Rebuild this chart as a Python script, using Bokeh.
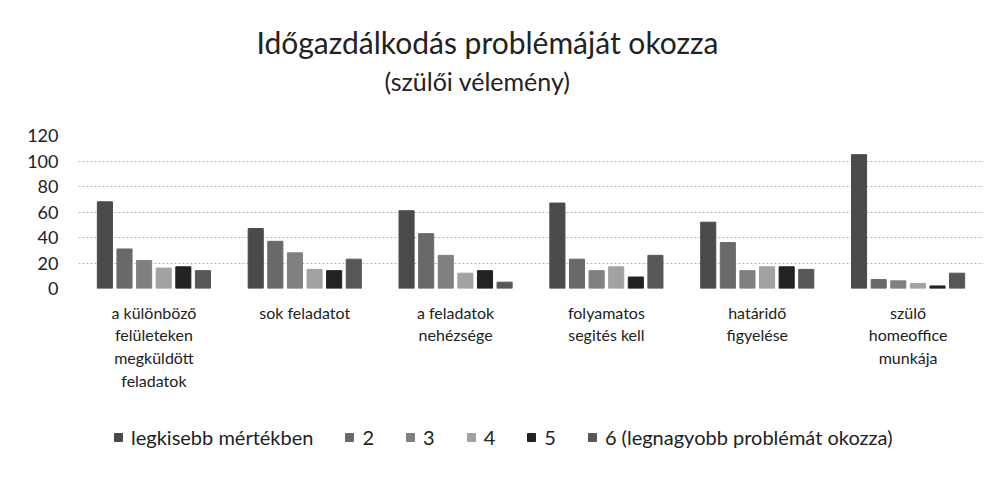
from bokeh.plotting import figure
from bokeh.layouts import column
from bokeh.models import (FactorRange, Legend, LegendItem, Label, ColumnDataSource,
                          FixedTicker, Range1d)
from bokeh.transform import dodge
from bokeh.embed import file_html
from bokeh.resources import INLINE

title_text = "Időgazdálkodás problémáját okozza"
subtitle_text = "(szülői vélemény)"
categories = ["a különböző\nfelületeken\nmegküldött\nfeladatok", "sok feladatot",
              "a feladatok\nnehézsége", "folyamatos\nsegités kell",
              "határidő\nfigyelése", "szülő\nhomeoffice\nmunkája"]
series_names = ["legkisebb mértékben", "2", "3", "4", "5", "6 (legnagyobb problémát okozza)"]
s1 = [68, 47, 61, 67, 52, 105]
s2 = [31, 37, 43, 23, 36, 7]
s3 = [22, 28, 26, 14, 14, 6]
s4 = [16, 15, 12, 17, 17, 4]
s5 = [17, 14, 14, 9, 17, 2]
s6 = [14, 23, 5, 26, 15, 12]
y_ticks = [0, 20, 40, 60, 80, 100, 120]

colors = ["#4a4a4a", "#696969", "#808080", "#a2a2a2", "#222222", "#575757"]
FONT = "Lato"
W = 990

src = ColumnDataSource(dict(cat=categories, s1=s1, s2=s2, s3=s3, s4=s4, s5=s5, s6=s6))

# title strip (pixel-like coordinates)
ts = figure(x_range=Range1d(78, 983), y_range=Range1d(125, 0), width=W, height=125,
            output_backend="svg", toolbar_location=None,
            min_border_left=78, min_border_right=7, min_border_top=0, min_border_bottom=0)
ts.axis.visible = False
ts.grid.visible = False
ts.outline_line_color = None
ts.add_layout(Label(x=487, y=41, text=title_text, text_font=FONT, text_font_size="30px",
                    text_color="#222", text_align="center", text_baseline="middle"))
ts.add_layout(Label(x=477, y=80, text=subtitle_text, text_font=FONT, text_font_size="25px",
                    text_color="#222", text_align="center", text_baseline="middle"))

p = figure(x_range=FactorRange(*categories), y_range=(0, 120), width=W, height=285,
           output_backend="svg", toolbar_location=None,
           min_border_left=78, min_border_right=7, min_border_top=10, min_border_bottom=122)

cols = ["s1", "s2", "s3", "s4", "s5", "s6"]
offsets = [-0.325, -0.195, -0.065, 0.065, 0.195, 0.325]
for col, off, c in zip(cols, offsets, colors):
    p.vbar(x=dodge("cat", off, range=p.x_range), top=col, width=0.1, source=src,
           fill_color=c, line_color=c)

p.xaxis.major_label_text_font = FONT
p.xaxis.major_label_text_font_size = "16px"
p.xaxis.major_label_text_color = "#222"
p.xaxis.major_label_standoff = 8
p.xaxis.axis_line_color = None
p.xaxis.major_tick_line_color = None
p.xaxis.minor_tick_line_color = None

p.yaxis.ticker = FixedTicker(ticks=y_ticks)
p.yaxis.major_label_text_font = FONT
p.yaxis.major_label_text_font_size = "18px"
p.yaxis.major_label_text_color = "#222"
p.yaxis.axis_line_color = None
p.yaxis.major_tick_line_color = None
p.yaxis.minor_tick_line_color = None
p.yaxis.major_label_standoff = 14

p.xgrid.grid_line_color = None
p.ygrid.grid_line_color = "#b5b5b5"
p.ygrid.grid_line_dash = "2 2"
p.outline_line_color = None

# legend strip below the chart
lg = figure(x_range=FactorRange(*categories), y_range=(1000, 1001), width=W, height=73,
            output_backend="svg", toolbar_location=None,
            min_border_left=0, min_border_right=0, min_border_top=0, min_border_bottom=0)
lg.axis.visible = False
lg.grid.visible = False
lg.outline_line_color = None
items = []
for col, c, name in zip(cols, colors, series_names):
    r = lg.vbar(x="cat", top=col, width=0.1, source=src, fill_color=c, line_color=c)
    items.append(LegendItem(label=name, renderers=[r]))
legend = Legend(items=items, orientation="horizontal", location=(35, 34),
                label_text_font=FONT, label_text_font_size="20px", label_text_color="#222",
                glyph_width=10, glyph_height=10, spacing=31, label_standoff=8, label_width=1,
                border_line_color=None, background_fill_alpha=0, margin=0, padding=0)
lg.add_layout(legend)

layout = column(ts, p, lg, spacing=0)
open("out.html", "w").write(file_html(layout, INLINE))
